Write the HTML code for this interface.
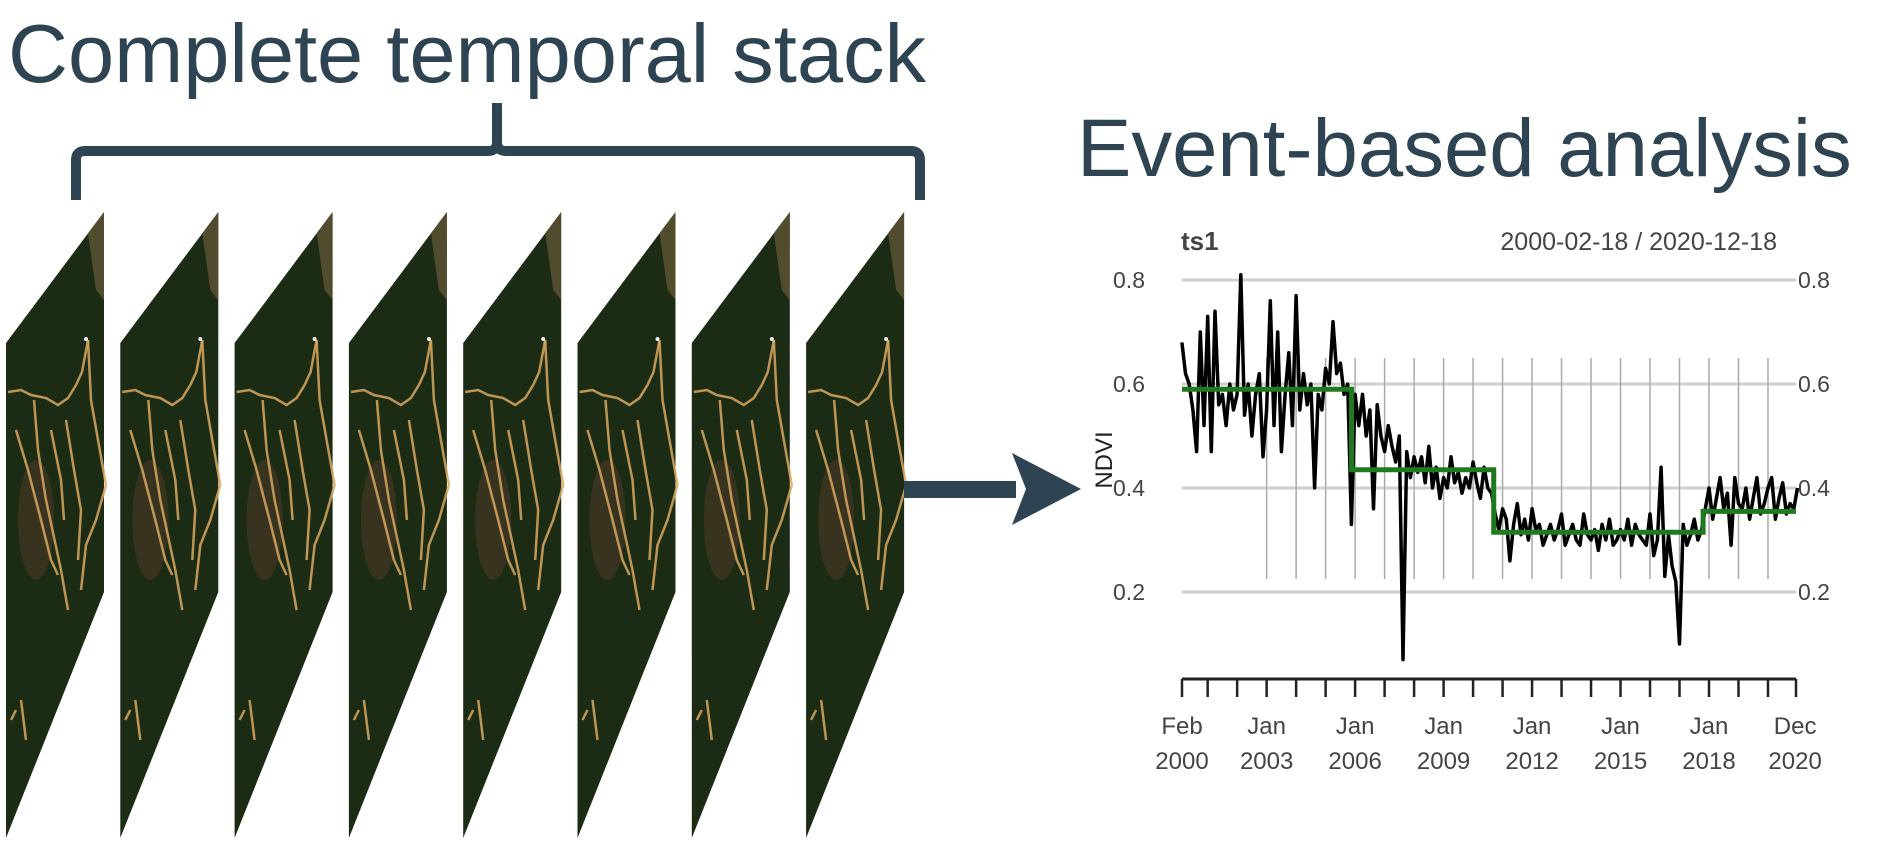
<!DOCTYPE html>
<html><head><meta charset="utf-8"><style>
html,body{margin:0;padding:0;background:#fff;}
svg{display:block;}
</style></head><body>
<svg width="1893" height="842" viewBox="0 0 1893 842" xmlns="http://www.w3.org/2000/svg">
<text x="8" y="82" font-family="Liberation Sans, sans-serif" font-size="83" fill="#2e4453">Complete temporal stack</text>
<text x="1077" y="176" font-family="Liberation Sans, sans-serif" font-size="81.5" fill="#2e4453">Event-based analysis</text>
<path d="M76 200 V160 Q76 151 85 151 H488 Q497 151 497 142 V103 M497 142 Q497 151 506 151 H911 Q920 151 920 160 V200" fill="none" stroke="#2e4453" stroke-width="10"/>
<g id="panels"></g>
<g>
<rect x="904" y="481" width="112" height="17" fill="#2e4453"/>
<polygon points="1012,453 1081,489 1012,525 1026,489" fill="#2e4453"/>
</g>
<g id="chart"></g>
</svg>
<script>
const NS='http://www.w3.org/2000/svg';
function mk(tag,attrs,parent){const e=document.createElementNS(NS,tag);for(const k in attrs)e.setAttribute(k,attrs[k]);parent.appendChild(e);return e;}
const pg=document.getElementById('panels');
for(let i=0;i<8;i++){
  const x0=6+i*114.3;
  const g=mk('g',{transform:'translate('+x0+',0)'},pg);
  
  
  mk('polygon',{points:'0,343 98,212 98,592 0,838',fill:'#1c2c14'},g);
  mk('polygon',{points:'82,233 98,212 98,300 90,290',fill:'#6a5a3a',opacity:'0.7'},g);
  mk('ellipse',{cx:30,cy:520,rx:18,ry:60,fill:'#4a3826',opacity:'0.6'},g);
  const tan='#d9a860';
  const lines=['M2,392 L15,390 L25,395 L40,398 L52,405 L62,398 L70,385 L76,372 L82,340','M82,340 L85,400 L92,440 L100,485 L90,520 L80,545 L75,590','M10,430 L22,470 L35,520 L45,560 L52,575','M28,400 L32,450 L40,500 L55,570 L62,610','M60,420 L68,470 L75,510 L72,560','M5,720 L10,710 M15,700 L20,740','M45,430 L55,480 L58,520'];
  lines.forEach(d=>mk('path',{d:d,fill:'none',stroke:tan,'stroke-width':2.5,opacity:'0.85'},g));
  mk('circle',{cx:80,cy:339,r:2,fill:'#eee'},g);
}
const yTicks=[0.2,0.4,0.6,0.8];
const xLabelsTop=['Feb','Jan','Jan','Jan','Jan','Jan','Jan','Dec'];
const xLabelsBot=['2000','2003','2006','2009','2012','2015','2018','2020'];
const xLabelTimes=[2000.13,2003,2006,2009,2012,2015,2018,2020.92];
const startTime=2000.125;
const stepTime=0.125;
const ndvi=[
0.68,0.62,0.60,0.55,0.47,0.70,0.52,0.73,
0.47,0.74,0.56,0.58,0.52,0.60,0.55,0.58,
0.81,0.54,0.60,0.50,0.58,0.62,0.46,0.55,
0.76,0.52,0.70,0.47,0.58,0.66,0.52,0.77,
0.55,0.62,0.56,0.60,0.40,0.58,0.55,0.63,
0.60,0.72,0.62,0.64,0.58,0.60,0.33,0.58,
0.52,0.58,0.50,0.55,0.36,0.56,0.50,0.47,
0.52,0.48,0.45,0.50,0.07,0.47,0.42,0.46,
0.43,0.46,0.41,0.48,0.40,0.44,0.38,0.42,
0.40,0.46,0.41,0.43,0.39,0.42,0.40,0.45,
0.41,0.38,0.44,0.40,0.39,0.35,0.32,0.36,
0.34,0.26,0.33,0.37,0.31,0.34,0.30,0.36,
0.32,0.33,0.29,0.31,0.33,0.30,0.32,0.35,
0.29,0.31,0.33,0.30,0.29,0.35,0.31,0.30,
0.32,0.28,0.33,0.30,0.34,0.29,0.30,0.32,
0.30,0.34,0.29,0.33,0.31,0.30,0.29,0.35,
0.27,0.30,0.44,0.23,0.31,0.25,0.22,0.10,
0.33,0.29,0.31,0.34,0.30,0.32,0.36,0.40,
0.34,0.38,0.42,0.36,0.39,0.29,0.42,0.37,
0.36,0.40,0.34,0.38,0.42,0.35,0.37,0.40,
0.42,0.34,0.38,0.41,0.35,0.37,0.36,0.40];
const segStarts=[2000.13,2005.88,2010.7,2017.8];
const segEnds=[2005.88,2010.7,2017.8,2020.95];
const segLevels=[0.59,0.435,0.315,0.355];
const T0=2000.13,T1=2020.95,X0=1182,X1=1796;
const sx=t=>X0+(t-T0)/(T1-T0)*(X1-X0);
const sy=v=>592-(v-0.2)/0.2*104;
const c=document.getElementById('chart');
const F='Liberation Sans, sans-serif';
yTicks.forEach(v=>{
  const l=mk('line',{x1:X0,x2:X1,y1:sy(v),y2:sy(v),stroke:'#cfcfcf','stroke-width':3},c);
  
  
  const a=mk('text',{x:1145,y:sy(v)+8,'text-anchor':'end','font-family':F,'font-size':23,fill:'#444'},c);a.textContent=v.toFixed(1);
  
  
  const b=mk('text',{x:1798,y:sy(v)+8,'font-family':F,'font-size':23,fill:'#444'},c);b.textContent=v.toFixed(1);
  
  
});
for(let y=2003;y<=2020;y++){
  const l=mk('line',{x1:sx(y),x2:sx(y),y1:sy(0.65),y2:sy(0.225),stroke:'#aaaaaa','stroke-width':1.5},c);
  
  
}
const ax=mk('line',{x1:X0,x2:X1,y1:679,y2:679,stroke:'#222','stroke-width':3},c);


const tickT=[T0];for(let y=2001;y<=2020;y++)tickT.push(y);tickT.push(T1);
tickT.forEach(t=>{const l=mk('line',{x1:sx(t),x2:sx(t),y1:679,y2:697,stroke:'#222','stroke-width':2.5},c);

});
xLabelTimes.forEach((t,i)=>{
  const a=mk('text',{x:sx(t),y:734,'text-anchor':'middle','font-family':F,'font-size':24,fill:'#444'},c);a.textContent=xLabelsTop[i];
  
  
  const b=mk('text',{x:sx(t),y:769,'text-anchor':'middle','font-family':F,'font-size':24,fill:'#444'},c);b.textContent=xLabelsBot[i];
  
  
});
let d='';ndvi.forEach((v,i)=>{d+=(i?'L':'M')+sx(startTime+i*stepTime).toFixed(1)+','+sy(v).toFixed(1);});
const p=mk('path',{d:d,fill:'none',stroke:'#000','stroke-width':3.5,'stroke-linejoin':'round'},c);


let gd='';segLevels.forEach((v,i)=>{gd+=(i?'L':'M')+sx(segStarts[i])+','+sy(v)+'L'+sx(segEnds[i])+','+sy(v);});
const gp=mk('path',{d:gd,fill:'none',stroke:'#1f7a1f','stroke-width':5},c);


const t1=mk('text',{x:1181,y:250,'font-family':F,'font-size':26,'font-weight':'bold',fill:'#444'},c);t1.textContent='ts1';


const t2=mk('text',{x:1777,y:250,'text-anchor':'end','font-family':F,'font-size':25,fill:'#444'},c);t2.textContent='2000-02-18 / 2020-12-18';


const yl=mk('text',{x:0,y:0,transform:'translate(1112,460) rotate(-90)','text-anchor':'middle','font-family':F,'font-size':24,fill:'#222'},c);yl.textContent='NDVI';


</script>
</body></html>
